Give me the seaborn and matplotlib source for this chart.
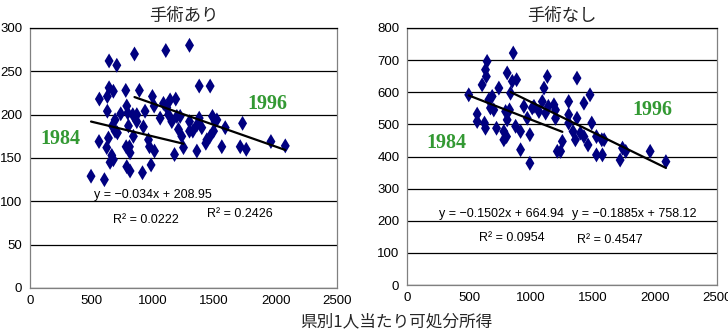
import numpy as np
import pandas as pd
import seaborn as sns
import matplotlib.pyplot as plt

# 手術あり : 1984
ari84_x = [497, 606, 565, 562, 644, 707, 644, 679, 630, 780, 630, 739, 693, 788, 796,
           837, 870, 802, 924, 842, 639, 671, 693, 712, 625, 666, 652, 679, 783, 810,
           815, 788, 815, 916, 986, 965, 973, 1014, 1209, 1236, 1177, 1250]
ari84_y = [129, 125, 218, 169, 262, 257, 231, 227, 221, 228, 204, 201, 194, 210, 202,
           200, 192, 187, 186, 175, 173, 187, 181, 179, 162, 153, 145, 148, 163, 163,
           156, 140, 135, 133, 142, 171, 163, 158, 183, 175, 154, 162]
# 手術あり : 1996
ari96_x = [851, 1106, 1299, 1378, 1467, 891, 997, 870, 937, 1011, 1060, 1087, 1114, 1128,
           1141, 1187, 1155, 1196, 1223, 1299, 1299, 1359, 1359, 1378, 1399, 1432, 1467,
           1495, 1486, 1522, 1508, 1562, 1590, 1712, 1731, 1761, 1962, 2079, 1326, 1440]
ari96_y = [270, 274, 280, 233, 233, 228, 221, 200, 204, 210, 196, 213, 208, 200,
           217, 218, 192, 198, 198, 181, 192, 188, 158, 196, 185, 167, 175,
           181, 198, 194, 192, 163, 185, 163, 190, 160, 169, 164, 181, 171]

# 手術なし : 1984
nashi84_x = [498, 566, 566, 606, 625, 633, 633, 646, 640, 660, 673, 687, 700, 722, 741,
             781, 781, 803, 795, 808, 808, 827, 876, 916, 943, 970, 991, 991, 1010, 1212,
             1239, 1253, 916, 884, 857, 849]
nashi84_y = [592, 532, 509, 623, 504, 488, 670, 696, 649, 577, 551, 587, 545, 488, 613,
             478, 452, 462, 540, 660, 514, 545, 494, 421, 556, 519, 379, 468, 551, 416,
             416, 447, 478, 639, 722, 634]
# 手術なし : 1996
nashi96_x = [835, 1024, 1064, 1091, 1105, 1118, 1132, 1140, 1185, 1198, 1198, 1304, 1304,
             1304, 1339, 1371, 1371, 1358, 1398, 1427, 1427, 1460, 1476, 1490, 1528, 1528,
             1571, 1576, 1590, 1719, 1738, 1764, 1961, 2088]
nashi96_y = [597, 556, 540, 571, 613, 535, 649, 556, 561, 519, 545, 571, 504,
             530, 478, 519, 644, 452, 473, 566, 462, 436, 592, 504, 462, 405,
             452, 405, 452, 389, 426, 416, 416, 384]

# linear trend lines (slope, intercept)
ari_trend84 = (-0.034, 208.95)
ari_trend96 = (-0.0497, 262.6)
nashi_trend84 = (-0.1502, 664.94)
nashi_trend96 = (-0.1885, 758.12)

ari_r2 = ["0.0222", "0.2426"]
nashi_r2 = ["0.0954", "0.4547"]

titles = ["手術あり", "手術なし"]
xlabel = "県別1人当たり可処分所得"
x_ticks = [0, 500, 1000, 1500, 2000, 2500]

sns.set_theme(style="white")
plt.rcParams["font.family"] = ["Liberation Sans", "Noto Sans CJK JP", "DejaVu Sans"]

NAVY = "#000080"
GREEN = "#339933"

fig = plt.figure(figsize=(7.28, 3.30), dpi=100)
fig.patch.set_facecolor("white")
ax1 = fig.add_axes([30 / 728, 42 / 330, 307 / 728, 260 / 330])
ax2 = fig.add_axes([407 / 728, 45 / 330, 310 / 728, 257 / 330])


def eq_text(coef):
    return f"y = \u2212{abs(coef[0])}x + {coef[1]:.2f}"


def draw_panel(ax, x84, y84, x96, y96, t84, t96, ymax, ystep, title):
    df = pd.DataFrame({
        "x": x84 + x96,
        "y": y84 + y96,
        "year": ["1984"] * len(x84) + ["1996"] * len(x96),
    })
    sns.scatterplot(data=df, x="x", y="y", ax=ax, marker="d", s=58,
                    color=NAVY, edgecolor="none", linewidth=0, legend=False, zorder=3)
    for xs, coef in ((x84, t84), (x96, t96)):
        xr = np.linspace(min(xs), max(xs), 40)
        ax.plot(xr, coef[0] * xr + coef[1], color="black", lw=1.6, zorder=4)

    ax.set_xlim(0, 2500)
    ax.set_ylim(0, ymax)
    ax.set_xticks(x_ticks)
    ax.set_yticks(np.arange(0, ymax + 1, ystep))
    ax.yaxis.grid(True, color="black", lw=0.9)
    ax.xaxis.grid(False)
    ax.set_axisbelow(True)
    ax.set_xlabel("")
    ax.set_ylabel("")
    ax.tick_params(axis="both", length=0, labelsize=9.5, colors="black")
    ax.tick_params(axis="x", pad=5)
    ax.tick_params(axis="y", pad=5.5)
    for side in ("left", "bottom", "right"):
        ax.spines[side].set_color("#808080")
        ax.spines[side].set_linewidth(0.9)
    ax.spines["top"].set_color("black")
    ax.spines["top"].set_linewidth(0.9)
    ax.set_title(title, fontsize=12.5, pad=5, family=["Noto Sans CJK JP"])


draw_panel(ax1, ari84_x, ari84_y, ari96_x, ari96_y, ari_trend84, ari_trend96,
           300, 50, titles[0])
draw_panel(ax2, nashi84_x, nashi84_y, nashi96_x, nashi96_y, nashi_trend84, nashi_trend96,
           800, 100, titles[1])

year_style = dict(color=GREEN, fontsize=14.5, fontweight="bold",
                  family=["Liberation Serif"], ha="center", va="center", zorder=5)
ax1.text(244, 172, "1984", **year_style)
ax1.text(1930, 212, "1996", **year_style)
ax2.text(314, 443, "1984", **year_style)
ax2.text(1976, 546, "1996", **year_style)

eq_style = dict(fontsize=9, ha="center", va="center", color="black", zorder=5)
ax1.text(1002, 107, eq_text(ari_trend84), **eq_style)
ax1.text(945, 78, f"R\u00b2 = {ari_r2[0]}", **eq_style)
ax1.text(1710, 85, f"R\u00b2 = {ari_r2[1]}", **eq_style)

ax2.text(766, 221, eq_text(nashi_trend84), **eq_style)
ax2.text(1831, 221, eq_text(nashi_trend96), **eq_style)
ax2.text(847, 146, f"R\u00b2 = {nashi_r2[0]}", **eq_style)
ax2.text(1637, 140, f"R\u00b2 = {nashi_r2[1]}", **eq_style)

fig.text(396 / 728, 1 - 322 / 330, xlabel, ha="center", va="center",
         fontsize=12, family=["Noto Sans CJK JP"])

fig.savefig("out.png", dpi=100, facecolor="white")
